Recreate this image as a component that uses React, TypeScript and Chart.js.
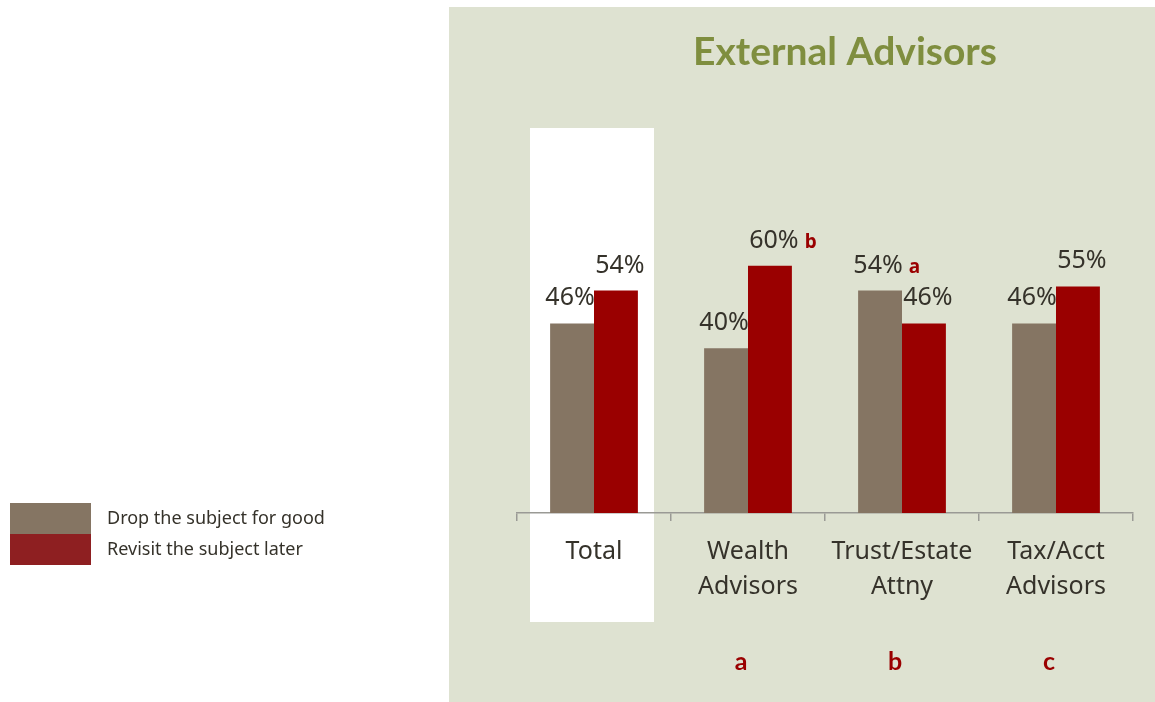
import React, { useEffect, useRef } from "react";
import { Chart, registerables } from "chart.js";

Chart.register(...registerables);

const title = "External Advisors";
const categories = [["Total"], ["Wealth", "Advisors"], ["Trust/Estate", "Attny"], ["Tax/Acct", "Advisors"]];
const seriesNames = ["Drop the subject for good", "Revisit the subject later"];
const dropValues = [46, 40, 54, 46];
const revisitValues = [54, 60, 46, 55];
const dropLetters = ["", "", "a", ""];
const revisitLetters = ["", "b", "", ""];
const categoryLetters = ["", "a", "b", "c"];

const GREY = "#857563";
const RED = "#9A0000";
const LEGEND_RED = "#8E1F21";
const PANEL = "#DEE2D1";
const TITLE_COLOR = "#7F8E3F";
const TEXT = "#35322A";
const FONT = "'Noto Sans', sans-serif";

const decorPlugin = {
  id: "decor",
  beforeDraw(chart: any) {
    const ctx = chart.ctx;
    const x = chart.scales.x;
    ctx.save();
    ctx.fillStyle = "#ffffff";
    ctx.fillRect(0, 0, chart.width, chart.height);
    ctx.fillStyle = PANEL;
    ctx.fillRect(449, 7, chart.width - 449, chart.height - 7);
    // highlight behind Total
    const c0 = x.getPixelForValue(0);
    ctx.fillStyle = "#ffffff";
    ctx.fillRect(c0 - 64, 128, 124, 494);
    // title
    ctx.fillStyle = TITLE_COLOR;
    ctx.font = "bold 39px Lato, sans-serif";
    ctx.textAlign = "center";
    ctx.textBaseline = "middle";
    ctx.fillText(title, 845, 52);
    // legend
    const colors = [GREY, LEGEND_RED];
    seriesNames.forEach((name, i) => {
      ctx.fillStyle = colors[i];
      ctx.fillRect(10, 503 + i * 31, 81, 31);
      ctx.fillStyle = TEXT;
      ctx.font = `18px ${FONT}`;
      ctx.textAlign = "left";
      ctx.textBaseline = "middle";
      ctx.fillText(name, 107, 519 + i * 31);
    });
    ctx.restore();
  },
  afterDatasetsDraw(chart: any) {
    const ctx = chart.ctx;
    const x = chart.scales.x;
    const letters = [dropLetters, revisitLetters];
    ctx.save();
    chart.data.datasets.forEach((ds: any, di: number) => {
      const meta = chart.getDatasetMeta(di);
      meta.data.forEach((bar: any, i: number) => {
        const label = ds.data[i] + "%";
        ctx.font = `25px ${FONT}`;
        ctx.fillStyle = TEXT;
        ctx.textAlign = "center";
        ctx.textBaseline = "alphabetic";
        const ty = bar.y - 18;
        const lx = bar.x + (di === 1 ? 4 : -2);
        ctx.fillText(label, lx, ty);
        const l = letters[di][i];
        if (l) {
          const w = ctx.measureText(label).width;
          ctx.font = `bold 19px ${FONT}`;
          ctx.fillStyle = RED;
          ctx.textAlign = "left";
          ctx.fillText(l, lx + w / 2 + 6, ty);
        }
      });
    });
    categoryLetters.forEach((l, i) => {
      if (!l) return;
      ctx.font = "bold 25px Lato, sans-serif";
      ctx.fillStyle = RED;
      ctx.textAlign = "center";
      ctx.textBaseline = "middle";
      ctx.fillText(l, x.getPixelForValue(i) - 7, 662);
    });
    ctx.restore();
  },
};

export default function App() {
  const ref = useRef<HTMLCanvasElement | null>(null);
  useEffect(() => {
    if (!ref.current) return;
    const chart = new Chart(ref.current, {
      type: "bar",
      data: {
        labels: categories,
        datasets: [
          { label: seriesNames[0], data: dropValues, backgroundColor: GREY },
          { label: seriesNames[1], data: revisitValues, backgroundColor: RED },
        ],
      },
      options: {
        responsive: false,
        animation: false,
        devicePixelRatio: 1,
        layout: { padding: { left: 517, right: 22, top: 101, bottom: 0 } },
        datasets: { bar: { categoryPercentage: 0.57, barPercentage: 1 } },
        plugins: { legend: { display: false }, tooltip: { enabled: false }, title: { display: false } },
        scales: {
          y: { display: false, min: 0, max: 100 },
          x: {
            afterFit: (scale: any) => {
              scale.height = 189;
            },
            border: { display: true, color: "#9A9A95", width: 1.5 },
            grid: { display: true, drawOnChartArea: false, drawTicks: true, tickLength: 8, color: "#9A9A95", lineWidth: 1.5, offset: true },
            ticks: { color: TEXT, font: { family: FONT, size: 25, lineHeight: 1.4 }, padding: 13, maxRotation: 0 },
          },
        },
      },
      plugins: [decorPlugin],
    });
    return () => chart.destroy();
  }, []);
  return (
    <div style={{ position: "absolute", left: 0, top: 0, width: 1155, height: 702 }}>
      <canvas ref={ref} width={1155} height={702} style={{ display: "block" }} />
    </div>
  );
}
